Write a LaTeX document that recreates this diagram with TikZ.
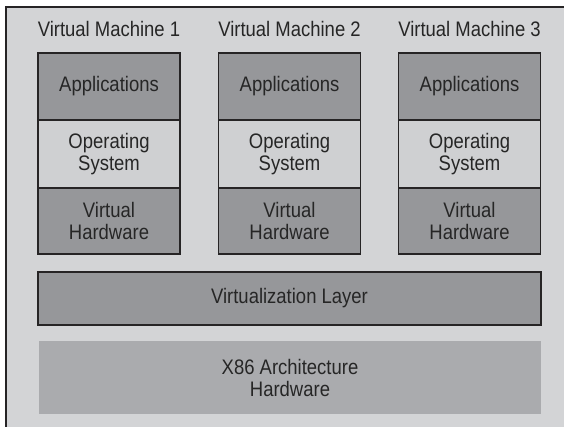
\documentclass[tikz,border=0pt]{standalone}
\usepackage{fontspec}
\setmainfont[FakeStretch=0.88]{Liberation Sans}
\definecolor{panel}{HTML}{D3D4D6}
\definecolor{darkfill}{HTML}{96979A}
\definecolor{lightfill}{HTML}{CFD0D2}
\definecolor{basefill}{HTML}{AAABAE}
\definecolor{edge}{HTML}{262425}
\definecolor{ink}{HTML}{262626}
\tikzset{
  lbl/.style={font=\fontsize{21}{22}\selectfont, text=ink, align=center, inner sep=0pt},
  layer/.style={lbl, draw=edge, line width=1.3pt, minimum width=142pt},
  darklayer/.style={layer, fill=darkfill},
  lightlayer/.style={layer, fill=lightfill},
}
\begin{document}
\begin{tikzpicture}[x=1pt,y=-1pt]
\useasboundingbox (0,0) rectangle (564,427);
\clip (0,0) rectangle (564,427);
% outer panel
\fill[white] (0,0) rectangle (564,427);
\draw[edge, line width=1.5pt, fill=panel] (6,7) rectangle (600,460);

% three virtual machines
\foreach \i/\cx in {1/109, 2/289.5, 3/469.5} {
  \node[lbl, anchor=base] (title\i) at (\cx,36.5) {Virtual Machine \i};
  \node[darklayer, minimum height=67pt] (app\i) at (\cx,86.5) {Applications};
  \node[lightlayer, minimum height=68pt] (os\i) at (\cx,154) {Operating\\System};
  \node[darklayer, minimum height=66pt] (hw\i) at (\cx,221) {Virtual\\Hardware};
}

% shared layers
\node[lbl, draw=edge, line width=1.8pt, fill=darkfill, minimum width=503pt, minimum height=53pt] (virt) at (289.5,298.5) {Virtualization Layer};
\node[lbl, fill=basefill, minimum width=502pt, minimum height=73pt] (x86) at (290,377.5) {X86 Architecture\\Hardware};
\end{tikzpicture}
\end{document}
